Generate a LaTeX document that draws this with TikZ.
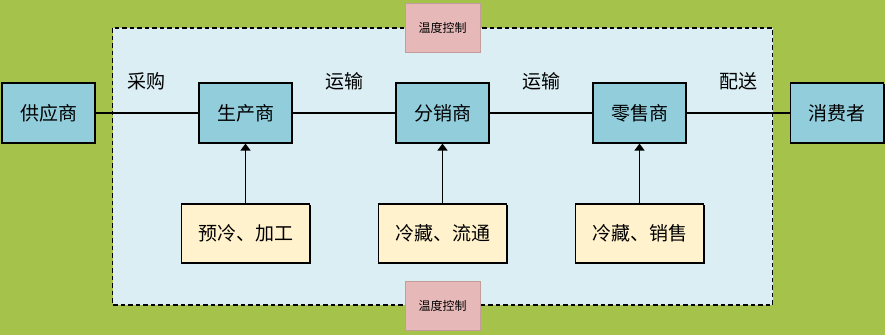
\documentclass[tikz,border=0pt]{standalone}
\usepackage{fontspec}
\setmainfont{Noto Sans CJK SC}
\usetikzlibrary{shadows,arrows.meta}
\definecolor{bggreen}{HTML}{A5C24A}
\definecolor{paleblue}{HTML}{DAEEF3}
\definecolor{boxblue}{HTML}{92CDDC}
\definecolor{boxcream}{HTML}{FFF2CC}
\definecolor{boxpink}{HTML}{E6B9B8}
\tikzset{
  actor/.style={draw=black, line width=1.2pt, fill=boxblue, minimum width=93pt, minimum height=60pt, inner sep=0pt, font=\fontsize{19}{19}\selectfont,
    drop shadow={shadow xshift=1.2pt, shadow yshift=-1.2pt, fill=black, opacity=1}},
  task/.style={draw=black, line width=1.2pt, fill=boxcream, minimum width=128pt, minimum height=59pt, inner sep=0pt, font=\fontsize{19}{19}\selectfont,
    drop shadow={shadow xshift=1.2pt, shadow yshift=-1.2pt, fill=black, opacity=1}},
  temp/.style={fill=boxpink, draw=boxpink!85!black, line width=0.3pt, minimum width=75pt, minimum height=49pt, inner sep=0pt, font=\fontsize{12}{12}\selectfont},
  lbl/.style={font=\fontsize{19}{19}\selectfont, inner sep=0pt},
  link/.style={line width=1.5pt},
  up/.style={line width=1.5pt, -{Triangle[length=7pt,width=10pt]}},
}
\begin{document}
\begin{tikzpicture}[x=1pt,y=-1pt]
\fill[bggreen] (0,0) rectangle (885,335);
\useasboundingbox (0,0) rectangle (885,335);
\draw[fill=paleblue, line width=1.3pt, dash pattern=on 4.5pt off 3pt] (112.5,28) rectangle (772.5,305);
\node[temp] (t1) at (442.5,27.5) {温度控制};
\node[temp] (t2) at (442.5,306) {温度控制};
\node[actor] (s) at (48.5,113) {供应商};
\node[actor] (p) at (245.5,113) {生产商};
\node[actor] (d) at (442.5,113) {分销商};
\node[actor] (r) at (639.5,113) {零售商};
\node[actor] (c) at (837,113) {消费者};
\node[task] (tp) at (245.5,233.5) {预冷、加工};
\node[task] (td) at (442.5,233.5) {冷藏、流通};
\node[task] (tr) at (639.5,233.5) {冷藏、销售};
\node[lbl] (l1) at (146,81) {采购};
\node[lbl] (l2) at (344,81) {运输};
\node[lbl] (l3) at (541,81) {运输};
\node[lbl] (l4) at (738,81) {配送};
\draw[link] (s) -- (p);
\draw[link] (p) -- (d);
\draw[link] (d) -- (r);
\draw[link] (r) -- (c);
\draw[up] (tp) -- (p);
\draw[up] (td) -- (d);
\draw[up] (tr) -- (r);
\end{tikzpicture}
\end{document}
